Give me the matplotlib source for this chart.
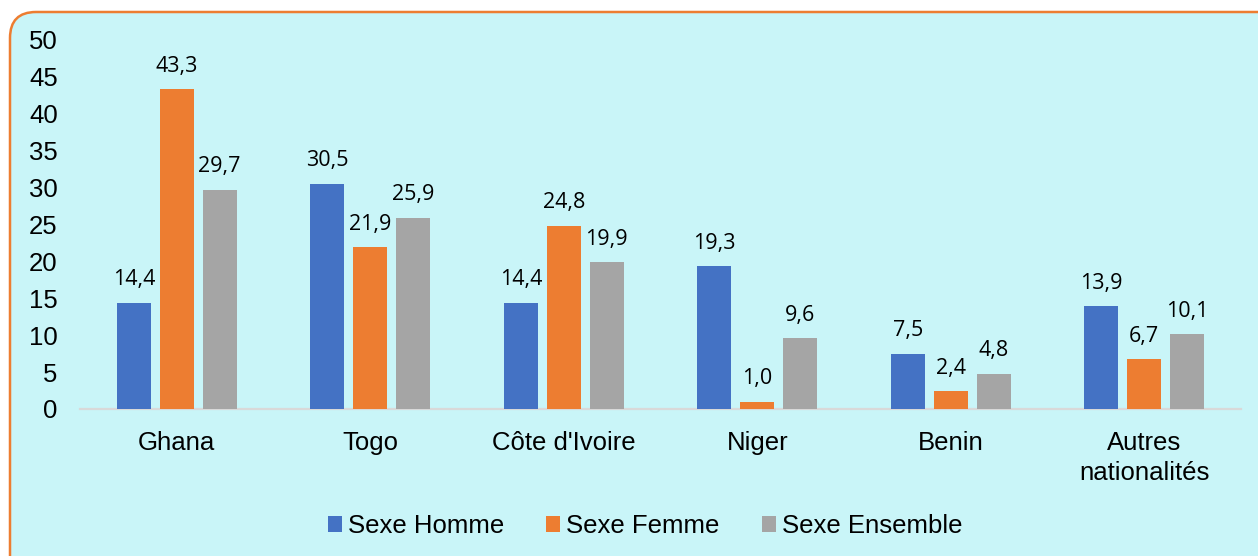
import numpy as np
import matplotlib.pyplot as plt
from matplotlib.patches import FancyBboxPatch

plt.switch_backend('agg')

# data
countries=["Ghana","Togo","Côte d'Ivoire","Niger","Benin","Autres\nnationalités"]
homme=[14.4,30.5,14.4,19.3,7.5,13.9]
femme=[43.3,21.9,24.8,1.0,2.4,6.7]
ensemble=[29.7,25.9,19.9,9.6,4.8,10.1]
series_names=["Sexe Homme","Sexe Femme","Sexe Ensemble"]
yticks=[0,5,10,15,20,25,30,35,40,45,50]

colors=["#4472C4","#ED7D31","#A5A5A5"]
W,H=1258,556

plt.rcParams['font.family']=['Liberation Sans','DejaVu Sans']
fig=plt.figure(figsize=(W/100.,H/100.),dpi=100)
fig.patch.set_facecolor('white')

# rounded background panel (pixel coordinates)
bg=fig.add_axes([0,0,1,1],zorder=0)
bg.set_xlim(0,W)
bg.set_ylim(H,0)
bg.axis('off')
panel=FancyBboxPatch((10,12),1275,570,boxstyle="round,pad=0,rounding_size=26",
                     facecolor="#C9F5F8",edgecolor="#ED7D31",linewidth=1.8)
bg.add_patch(panel)

ax=fig.add_axes([80/W,1-409/H,1161/W,369.5/H],zorder=1)
ax.set_facecolor('none')

x=np.arange(len(countries))
bw=0.176
step=0.222
bars=[]
for i,(vals,name) in enumerate(zip([homme,femme,ensemble],series_names)):
    b=ax.bar(x+(i-1)*step,vals,bw,color=colors[i],label=name,zorder=2)
    bars.append(b)
    for xi,v in zip(x+(i-1)*step,vals):
        ax.annotate(("%.1f"%v).replace('.',','),(xi,v),xytext=(0,12.5),
                    textcoords='offset points',ha='center',va='baseline',
                    fontsize=15.5,family=['Open Sans','DejaVu Sans'],color='black')

ax.set_xlim(-0.5,len(countries)-0.5)
ax.set_ylim(0,50)
ax.set_yticks(yticks)
ax.set_yticklabels([str(t) for t in yticks],fontsize=18.5)
ax.set_xticks(x)
ax.set_xticklabels(countries,fontsize=18.5,linespacing=1.3)
ax.tick_params(axis='y',length=0,pad=16)
ax.tick_params(axis='x',length=0,pad=16)
for s in ['top','right','left']:
    ax.spines[s].set_visible(False)
ax.spines['bottom'].set_color('#D9D9D9')
ax.spines['bottom'].set_linewidth(1.6)
ax.spines['bottom'].set_zorder(1)

fig.legend(handles=bars,labels=series_names,loc='center',bbox_to_anchor=(645/W,1-526/H),
           ncol=3,frameon=False,fontsize=18.5,handlelength=0.54,handleheight=0.54,
           handletextpad=0.23,columnspacing=1.65)

plt.savefig("out.png",dpi=100)
